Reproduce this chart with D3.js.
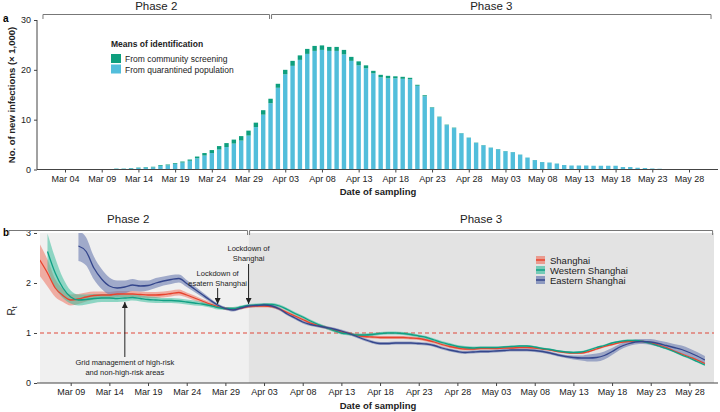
<!DOCTYPE html>
<html lang="en">
<head>
<meta charset="UTF-8">
<title>Shanghai infections and Rt</title>
<script src="https://d3js.org/d3.v7.min.js"></script>
<style>
  body { margin: 0; background: #fff; }
  svg { display: block; font-family: "Liberation Sans", Arial, sans-serif; }
  .tick text { font-size: 9px; fill: #222; }
  .tick line, .domain { stroke: #444; }
</style>
</head>
<body>
<svg id="chart" width="720" height="412"></svg>
<script>
// panel a: daily new infections (x 1,000), one value per day from barStart
const barStart = "2022-03-10";
const quarantined = [
  0.08, 0.17, 0.17, 0.25, 0.33, 0.42, 0.45, 0.75, 0.85, 1.15,
  1.4, 1.75, 2.25, 2.8, 3.3, 4.0, 4.5, 5.2, 5.8, 6.8,
  8.5, 11.0, 13.3, 16.4, 19.1, 20.8, 22.0, 23.2, 23.8, 24.0,
  23.8, 23.8, 23.1, 21.8, 20.9, 20.3, 19.3, 18.5, 18.3, 18.3,
  18.2, 18.1, 16.8, 14.7, 12.4, 10.5, 8.9, 8.3, 7.25, 6.35,
  5.35, 4.85, 4.36, 4.06, 3.66, 3.47, 2.97, 2.38, 1.88, 1.48,
  1.38, 1.18, 0.89, 0.79, 0.79, 0.79, 0.74, 0.74, 0.74, 0.74,
  0.49, 0.49, 0.34, 0.29, 0.2, 0.15, 0.08
];
const community = [
  0.02, 0.03, 0.03, 0.05, 0.07, 0.08, 0.1, 0.15, 0.15, 0.15,
  0.2, 0.25, 0.35, 0.5, 0.6, 0.7, 0.8, 0.8, 0.9, 1.0,
  0.9, 0.9, 0.9, 0.8, 0.9, 1.0, 0.9, 1.0, 1.0, 0.9,
  0.8, 0.8, 0.9, 0.8, 0.8, 0.6, 0.5, 0.5, 0.5, 0.4,
  0.4, 0.3, 0.2, 0.2, 0.1, 0.1, 0.1, 0.1, 0.05, 0.05,
  0.05, 0.05, 0.04, 0.04, 0.04, 0.03, 0.03, 0.02, 0.02, 0.02,
  0.02, 0.02, 0.01, 0.01, 0.01, 0.01, 0.01, 0.01, 0.01, 0.01,
  0.01, 0.01, 0.01, 0.01, 0, 0, 0
];
const topTicks = ["Mar 04", "Mar 09", "Mar 14", "Mar 19", "Mar 24", "Mar 29", "Apr 03", "Apr 08",
  "Apr 13", "Apr 18", "Apr 23", "Apr 28", "May 03", "May 08", "May 13", "May 18", "May 23", "May 28"];

// panel b: Rt, one value per day from rtStart (null = not estimated)
const rtStart = "2022-03-05";
const rtShanghai = [
  2.46, 2.2, 1.9, 1.75, 1.66, 1.68, 1.72, 1.75, 1.76, 1.76,
  1.78, 1.78, 1.78, 1.77, 1.76, 1.76, 1.77, 1.79, 1.81, 1.76,
  1.7, 1.64, 1.58, 1.53, 1.49, 1.48, 1.5,
  1.53, 1.54, 1.54, 1.53, 1.48, 1.41, 1.34, 1.27, 1.2, 1.15,
  1.11, 1.06, 1.02, 0.99, 0.95, 0.93, 0.92, 0.91, 0.91, 0.91,
  0.91, 0.9, 0.89, 0.86, 0.82, 0.77, 0.73, 0.7, 0.68, 0.68,
  0.69, 0.69, 0.69, 0.7, 0.7, 0.71, 0.71, 0.7, 0.68, 0.66,
  0.63, 0.61, 0.6, 0.6, 0.63, 0.68, 0.73, 0.77, 0.81, 0.83,
  0.84, 0.83, 0.8, 0.76, 0.71, 0.64, 0.58, 0.52, 0.46, 0.39
];
const rtWestern = [
  null, 2.63, 2.2, 1.9, 1.72, 1.66, 1.67, 1.69, 1.7, 1.7,
  1.69, 1.7, 1.71, 1.69, 1.67, 1.66, 1.65, 1.65, 1.64, 1.62,
  1.6, 1.58, 1.55, 1.51, 1.49, 1.49, 1.52,
  1.55, 1.56, 1.57, 1.57, 1.54, 1.47, 1.39, 1.32, 1.24, 1.17,
  1.11, 1.05, 1.0, 0.98, 0.96, 0.96, 0.97, 0.99, 1.0, 1.0,
  0.99, 0.97, 0.94, 0.91, 0.86, 0.81, 0.77, 0.73, 0.71, 0.7,
  0.71, 0.71, 0.71, 0.72, 0.73, 0.74, 0.74, 0.72, 0.69, 0.67,
  0.64, 0.62, 0.61, 0.62, 0.66, 0.71, 0.75, 0.8, 0.83, 0.85,
  0.85, 0.83, 0.79, 0.74, 0.69, 0.63, 0.56, 0.5, 0.43, 0.36
];
const rtEastern = [
  null, null, null, null, null, 2.74, 2.63, 2.3, 2.08, 1.94,
  1.9, 1.92, 1.96, 1.94, 1.95, 2.0, 2.04, 2.07, 2.09, 1.99,
  1.88, 1.77, 1.66, 1.56, 1.49, 1.46, 1.5,
  1.54, 1.55, 1.56, 1.54, 1.48, 1.38, 1.3, 1.22, 1.17, 1.14,
  1.11, 1.08, 1.04, 0.99, 0.93, 0.87, 0.82, 0.79, 0.79, 0.8,
  0.8, 0.8, 0.79, 0.78, 0.75, 0.7, 0.66, 0.63, 0.61, 0.62,
  0.63, 0.63, 0.64, 0.65, 0.66, 0.66, 0.66, 0.65, 0.63, 0.6,
  0.56, 0.53, 0.51, 0.5, 0.5, 0.51, 0.55, 0.63, 0.72, 0.78,
  0.82, 0.83, 0.82, 0.79, 0.75, 0.71, 0.67, 0.61, 0.54, 0.46
];
// half-width of the uncertainty band, per day
const ciShanghai = [
  0.32, 0.27, 0.18, 0.13, 0.11, 0.1, 0.09, 0.08, 0.07, 0.06,
  0.06, 0.06, 0.06, 0.06, 0.06, 0.06, 0.06, 0.06, 0.06, 0.05,
  0.05, 0.04, 0.04, 0.03, 0.03, 0.03, 0.03,
  0.03, 0.03, 0.03, 0.03, 0.03, 0.03, 0.03, 0.03, 0.03, 0.03,
  0.03, 0.03, 0.03, 0.03, 0.03, 0.03, 0.03, 0.03, 0.03, 0.03,
  0.03, 0.03, 0.03, 0.03, 0.03, 0.03, 0.03, 0.03, 0.03, 0.03,
  0.02, 0.02, 0.02, 0.02, 0.02, 0.02, 0.02, 0.02, 0.02, 0.02,
  0.02, 0.02, 0.02, 0.02, 0.02, 0.02, 0.02, 0.02, 0.02, 0.02,
  0.02, 0.02, 0.02, 0.02, 0.02, 0.02, 0.02, 0.02, 0.02, 0.02
];
const ciWestern = [
  null, 0.36, 0.3, 0.2, 0.13, 0.11, 0.1, 0.09, 0.08, 0.08,
  0.07, 0.07, 0.06, 0.06, 0.06, 0.06, 0.05, 0.05, 0.05, 0.05,
  0.05, 0.04, 0.04, 0.04, 0.03, 0.03, 0.03,
  0.03, 0.03, 0.03, 0.03, 0.03, 0.03, 0.03, 0.03, 0.03, 0.03,
  0.03, 0.03, 0.03, 0.03, 0.03, 0.03, 0.03, 0.03, 0.03, 0.03,
  0.03, 0.03, 0.03, 0.03, 0.03, 0.03, 0.03, 0.03, 0.03, 0.03,
  0.02, 0.02, 0.02, 0.02, 0.02, 0.02, 0.02, 0.02, 0.02, 0.02,
  0.02, 0.02, 0.02, 0.02, 0.02, 0.02, 0.02, 0.02, 0.02, 0.02,
  0.02, 0.02, 0.02, 0.02, 0.02, 0.02, 0.02, 0.02, 0.02, 0.02
];
const ciEastern = [
  null, null, null, null, null, 0.3, 0.28, 0.23, 0.2, 0.17,
  0.15, 0.13, 0.12, 0.11, 0.1, 0.1, 0.09, 0.09, 0.08, 0.07,
  0.06, 0.05, 0.04, 0.03, 0.03, 0.03, 0.03,
  0.03, 0.03, 0.03, 0.03, 0.03, 0.03, 0.03, 0.03, 0.03, 0.03,
  0.03, 0.03, 0.03, 0.03, 0.03, 0.03, 0.03, 0.03, 0.03, 0.03,
  0.03, 0.03, 0.03, 0.03, 0.03, 0.03, 0.03, 0.03, 0.03, 0.03,
  0.03, 0.03, 0.03, 0.03, 0.03, 0.03, 0.03, 0.03, 0.03, 0.03,
  0.03, 0.03, 0.04, 0.05, 0.07, 0.08, 0.08, 0.07, 0.06, 0.05,
  0.05, 0.05, 0.06, 0.06, 0.07, 0.07, 0.08, 0.08, 0.08, 0.08
];
const bottomTicks = ["Mar 09", "Mar 14", "Mar 19", "Mar 24", "Mar 29", "Apr 03", "Apr 08", "Apr 13",
  "Apr 18", "Apr 23", "Apr 28", "May 03", "May 08", "May 13", "May 18", "May 23", "May 28"];

const phases = ["Phase 2", "Phase 3"];
const phaseDates = ["2022-03-01", "2022-04-01", "2022-05-31"];

const parseDay = d3.timeParse("%Y-%m-%d");
const parseTick = d3.timeParse("%b %d %Y");
const fmtTick = d3.timeFormat("%b %d");

const svg = d3.select("#chart");
const ink = "#222";
const colQ = "#52bedb", colC = "#0e9f7e";

// ---------------- panel a ----------------
const xA = d3.scaleTime()
  .domain([parseTick("Mar 04 2022"), parseTick("May 28 2022")])
  .range([65, 689]);
const yA = d3.scaleLinear().domain([0, 30]).range([169.5, 20]);

const bars = quarantined.map((q, i) => ({
  date: d3.timeDay.offset(parseDay(barStart), i),
  q: q,
  c: community[i]
}));
const bw = 4.4;

const gA = svg.append("g");
gA.selectAll("rect.q").data(bars).join("rect")
  .attr("class", "q")
  .attr("x", d => xA(d.date) - bw / 2)
  .attr("width", bw)
  .attr("y", d => yA(d.q))
  .attr("height", d => yA(0) - yA(d.q))
  .attr("fill", colQ);
gA.selectAll("rect.c").data(bars).join("rect")
  .attr("class", "c")
  .attr("x", d => xA(d.date) - bw / 2)
  .attr("width", bw)
  .attr("y", d => yA(d.q + d.c))
  .attr("height", d => yA(d.q) - yA(d.q + d.c))
  .attr("fill", colC);

// axes a
gA.append("g").attr("transform", "translate(37,0)")
  .call(d3.axisLeft(yA).tickValues([0, 10, 20, 30]).tickFormat(d3.format("d"))
    .tickSize(3).tickSizeOuter(0).tickPadding(3))
  .call(g => g.select(".domain").remove());
gA.append("line").attr("x1", 37).attr("x2", 37).attr("y1", yA(30)).attr("y2", yA(0)).attr("stroke", "#444");
gA.append("line").attr("x1", 37).attr("x2", 718).attr("y1", yA(0)).attr("y2", yA(0)).attr("stroke", "#444");
gA.append("g").attr("transform", `translate(0,${yA(0)})`)
  .call(d3.axisBottom(xA).tickValues(topTicks.map(t => parseTick(t + " 2022")))
    .tickFormat(fmtTick).tickSize(3).tickPadding(3))
  .call(g => g.select(".domain").remove());

gA.append("text").attr("x", 378).attr("y", 195).attr("text-anchor", "middle")
  .attr("font-size", 9.5).attr("font-weight", "bold").attr("fill", ink).text("Date of sampling");
gA.append("text").attr("transform", "translate(15,95) rotate(-90)").attr("text-anchor", "middle")
  .attr("font-size", 9.5).attr("font-weight", "bold").attr("fill", ink).text("No. of new infections (× 1,000)");
svg.append("text").attr("x", 3).attr("y", 22).attr("font-size", 10).attr("font-weight", "bold").text("a");

// phase brackets
function brackets(x, yLine, yLabel) {
  const d = phaseDates.map(parseDay);
  phases.forEach((p, i) => {
    const x0 = x(d[i]) + (i === 0 ? 0 : 1), x1 = x(d[i + 1]) - (i === 0 ? 1 : 0);
    svg.append("path")
      .attr("d", `M${x0},${yLine + 4.5}V${yLine}H${x1}V${yLine + 4.5}`)
      .attr("fill", "none").attr("stroke", "#777").attr("stroke-width", 1);
    svg.append("text").attr("x", (x0 + x1) / 2).attr("y", yLabel).attr("text-anchor", "middle")
      .attr("font-size", 11.5).attr("fill", ink).text(p);
  });
}
brackets(xA, 14.5, 10);

// legend a
const legA = svg.append("g").attr("transform", "translate(111,0)");
legA.append("text").attr("x", 0).attr("y", 47).attr("font-size", 8.5).attr("font-weight", "bold")
  .attr("fill", ink).text("Means of identification");
[["From community screening", colC], ["From quarantined population", colQ]].forEach((e, i) => {
  legA.append("rect").attr("x", 0).attr("y", 54 + i * 10.5).attr("width", 10).attr("height", 9).attr("fill", e[1]);
  legA.append("text").attr("x", 14).attr("y", 62 + i * 10.5).attr("font-size", 8.5).attr("fill", ink).text(e[0]);
});

// ---------------- panel b ----------------
const xB = d3.scaleTime()
  .domain([parseTick("Mar 09 2022"), parseTick("May 28 2022")])
  .range([70.7, 689.4]);
const yB = d3.scaleLinear().domain([0, 3]).range([383, 233]);
const left = 40, right = 714;

const gB = svg.append("g");
const pd = phaseDates.map(parseDay);
gB.append("rect").attr("x", left).attr("y", yB(3)).attr("width", xB(pd[1]) - left)
  .attr("height", yB(0) - yB(3)).attr("fill", "#f0f0f0");
gB.append("rect").attr("x", xB(pd[1])).attr("y", yB(3)).attr("width", right - xB(pd[1]))
  .attr("height", yB(0) - yB(3)).attr("fill", "#e3e3e3");

svg.append("clipPath").attr("id", "clipB").append("rect")
  .attr("x", left).attr("y", yB(3)).attr("width", right - left).attr("height", yB(0) - yB(3));

gB.append("line").attr("x1", left).attr("x2", right).attr("y1", yB(1)).attr("y2", yB(1))
  .attr("stroke", "#e0483a").attr("stroke-width", 1.2).attr("stroke-dasharray", "4,3");

const series = [
  { name: "Shanghai", v: rtShanghai, ci: ciShanghai, line: "#e8432d", band: "#ee7563", op: 0.55 },
  { name: "Western Shanghai", v: rtWestern, ci: ciWestern, line: "#10a084", band: "#3cbf9f", op: 0.55 },
  { name: "Eastern Shanghai", v: rtEastern, ci: ciEastern, line: "#34468c", band: "#6a7bb0", op: 0.6 }
];
series.forEach(s => {
  s.pts = s.v.map((v, i) => ({ date: d3.timeDay.offset(parseDay(rtStart), i), v: v, ci: s.ci[i] }));
});

const plot = gB.append("g").attr("clip-path", "url(#clipB)");
const area = d3.area().defined(d => d.v != null)
  .x(d => xB(d.date)).y0(d => yB(d.v - d.ci)).y1(d => yB(d.v + d.ci))
  .curve(d3.curveMonotoneX);
const line = d3.line().defined(d => d.v != null)
  .x(d => xB(d.date)).y(d => yB(d.v)).curve(d3.curveMonotoneX);

series.forEach(s => {
  plot.append("path").attr("d", area(s.pts)).attr("fill", s.band).attr("fill-opacity", s.op);
});
series.forEach(s => {
  plot.append("path").attr("d", line(s.pts)).attr("fill", "none").attr("stroke", s.line).attr("stroke-width", 1.3);
});

// axes b
gB.append("g").attr("transform", "translate(37,0)")
  .call(d3.axisLeft(yB).tickValues([0, 1, 2, 3]).tickFormat(d3.format("d"))
    .tickSize(3).tickSizeOuter(0).tickPadding(3))
  .call(g => g.select(".domain").remove());
gB.append("line").attr("x1", 37).attr("x2", 718).attr("y1", yB(0)).attr("y2", yB(0)).attr("stroke", "#444");
gB.append("g").attr("transform", `translate(0,${yB(0)})`)
  .call(d3.axisBottom(xB).tickValues(bottomTicks.map(t => parseTick(t + " 2022")))
    .tickFormat(fmtTick).tickSize(3).tickPadding(3))
  .call(g => g.select(".domain").remove());

gB.append("text").attr("x", 378).attr("y", 409).attr("text-anchor", "middle")
  .attr("font-size", 9.5).attr("font-weight", "bold").attr("fill", ink).text("Date of sampling");
const rt = gB.append("text").attr("transform", "translate(15,311) rotate(-90)").attr("text-anchor", "middle")
  .attr("font-size", 10).attr("fill", ink);
rt.append("tspan").text("R");
rt.append("tspan").attr("font-size", 7).attr("dy", 2).text("t");
svg.append("text").attr("x", 3).attr("y", 236).attr("font-size", 10).attr("font-weight", "bold").text("b");

brackets(xB, 230.5, 223);

// legend b
const legB = svg.append("g").attr("transform", "translate(536,256)");
series.forEach((s, i) => {
  legB.append("rect").attr("x", 0).attr("y", i * 10).attr("width", 9).attr("height", 8)
    .attr("fill", s.band).attr("fill-opacity", s.op + 0.1);
  legB.append("line").attr("x1", 0).attr("x2", 9).attr("y1", i * 10 + 4).attr("y2", i * 10 + 4)
    .attr("stroke", s.line).attr("stroke-width", 1.5);
  legB.append("text").attr("x", 14).attr("y", i * 10 + 7.5).attr("font-size", 9.5).attr("fill", ink).text(s.name);
});

// annotations
svg.append("defs").append("marker").attr("id", "arrow").attr("viewBox", "0 0 10 10")
  .attr("refX", 10).attr("refY", 5).attr("markerWidth", 6).attr("markerHeight", 6)
  .attr("orient", "auto-start-reverse")
  .append("path").attr("d", "M0,0L10,5L0,10z").attr("fill", "#222");

function note(dateStr, lines, textY, y1, y2) {
  const x = xB(parseDay(dateStr));
  const t = svg.append("text").attr("text-anchor", "middle").attr("font-size", 7.5).attr("fill", ink);
  lines.forEach((l, i) => t.append("tspan").attr("x", x).attr("y", textY + i * 10.3).text(l));
  svg.append("line").attr("x1", x).attr("x2", x).attr("y1", y1).attr("y2", y2)
    .attr("stroke", "#222").attr("stroke-width", 1).attr("marker-end", "url(#arrow)");
}
note("2022-04-01", ["Lockdown of", "Shanghai"], 251, 264, 304);
note("2022-03-28", ["Lockdown of", "esatern Shanghai"], 276, 288, 304);
note("2022-03-16", ["Grid management of high-risk", "and non-high-risk areas"], 365, 357, 302);
</script>
</body>
</html>
